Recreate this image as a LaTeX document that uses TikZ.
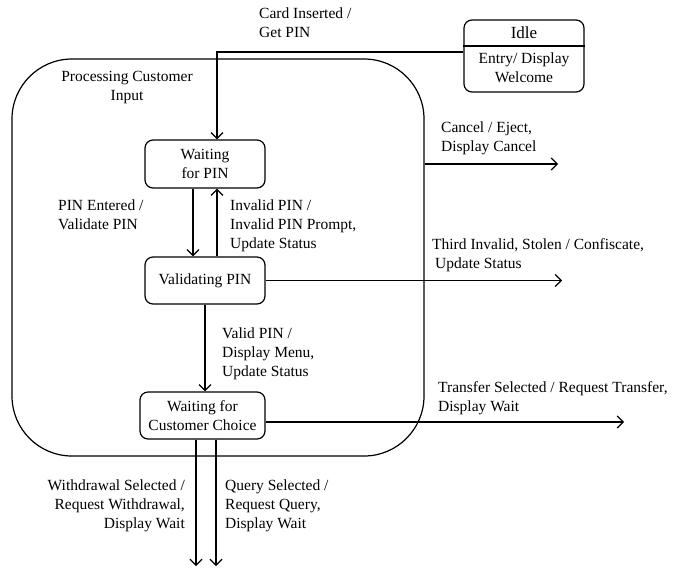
\documentclass[tikz,border=0pt]{standalone}
\usepackage{fontspec}
\setmainfont{Liberation Serif}
\usetikzlibrary{arrows.meta}
\begin{document}
\begin{tikzpicture}[x=1pt,y=-1pt,
  every node/.style={font=\rmfamily\fontsize{15.5}{19}\selectfont},
  conn/.style={line width=1.2pt},
  arr/.style={conn, -{Straight Barb[length=6pt,width=12pt]}},
  statebox/.style={draw, line width=1.2pt, rounded corners=8pt, align=center, inner sep=0pt},
  lbl/.style={anchor=north west, inner sep=0pt, align=left},
  lblr/.style={anchor=north east, inner sep=0pt, align=right}]
\useasboundingbox (0,0) rectangle (676,568);

% composite state
\node[statebox, minimum width=412pt, minimum height=397pt, rounded corners=60pt] (proc) at (218,257.5) {};
\node[anchor=north, inner sep=0pt, align=center] (proctitle) at (127,67.7) {\strut Processing Customer\\Input};

% Idle state with entry action compartment
\node[statebox, minimum width=120pt, minimum height=72pt] (idle) at (524,56) {};
\draw[line width=2pt] ([yshift=10pt]idle.west) -- ([yshift=10pt]idle.east);
\node (idlename) at (524,33) {\fontsize{17}{19}\selectfont Idle};
\node[align=center] (idleentry) at (524,67.5) {Entry/ Display\\Welcome};

% inner states
\node[statebox, minimum width=120pt, minimum height=48pt] (wpin) at (205,164) {Waiting\\for PIN};
\node[statebox, minimum width=120pt, minimum height=47pt] (vpin) at (205,280.5) {Validating PIN};
\node[statebox, minimum width=125pt, minimum height=47pt] (choice) at (202.5,415.5) {Waiting for\\Customer Choice};

% free ends of outgoing transitions
\coordinate (cancelend) at (558,164);
\coordinate (thirdend) at (562,280.5);
\coordinate (transferend) at (624,422);
\coordinate (wdend) at (196,566);
\coordinate (qend) at (216,566);

% transitions
\draw[arr] ([yshift=4pt]idle.west) -| ([xshift=12pt]wpin.north);
\draw[arr] ([xshift=-12pt]wpin.south) -- ([xshift=-12pt]vpin.north);
\draw[arr] ([xshift=12pt]vpin.north) -- ([xshift=12pt]wpin.south);
\draw[arr] (proc.east |- cancelend) -- (cancelend);
\draw[arr] (vpin.east) -- (thirdend);
\draw[arr] (vpin.south) -- (vpin.south |- choice.north);
\draw[arr] (choice.east |- transferend) -- (transferend);
\draw[arr] (choice.south -| wdend) -- (wdend);
\draw[arr] (choice.south -| qend) -- (qend);

% transition labels
\node[lbl] (lcard) at (259,4.7) {\strut Card Inserted /\\Get PIN};
\node[lbl] (lcancel) at (441,118.7) {\strut Cancel / Eject,\\Display Cancel};
\node[lbl] (lentered) at (58,196.7) {\strut PIN Entered /\\Validate PIN};
\node[lbl] (linvalid) at (230,196.7) {\strut Invalid PIN /\\Invalid PIN Prompt,\\Update Status};
\node[lbl] (lthird) at (432,235.7) {\strut Third Invalid, Stolen / Confiscate,\\\hspace{3pt}Update Status};
\node[lbl] (lvalid) at (222,324.7) {\strut Valid PIN /\\Display Menu,\\Update Status};
\node[lbl] (ltransfer) at (438,378.7) {\strut Transfer Selected / Request Transfer,\\Display Wait};
\node[lblr] (lwithdraw) at (185,476.7) {\strut Withdrawal Selected /\\Request Withdrawal,\\Display Wait};
\node[lbl] (lquery) at (225,476.7) {\strut Query Selected /\\Request Query,\\Display Wait};
\end{tikzpicture}
\end{document}
